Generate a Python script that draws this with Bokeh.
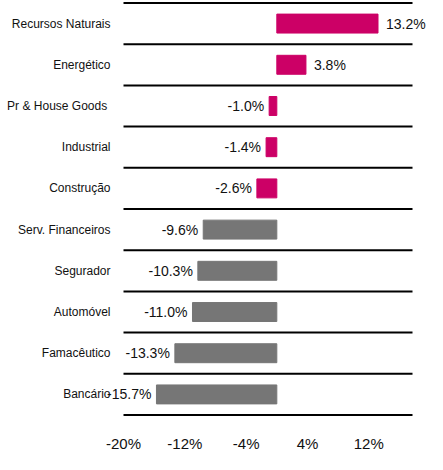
from bokeh.plotting import figure
from bokeh.models import ColumnDataSource, LabelSet, Range1d, FixedTicker, CustomJSTickFormatter
from bokeh.core.properties import value
from bokeh.embed import file_html
from bokeh.resources import INLINE

categories = ["Recursos Naturais", "Energético", "Pr & House  Goods", "Industrial", "Construção",
              "Serv. Financeiros", "Segurador", "Automóvel", "Famacêutico", "Bancário"]
values = [13.2, 3.8, -1.0, -1.4, -2.6, -9.6, -10.3, -11.0, -13.3, -15.7]
colors = ["#CC0066"] * 5 + ["#767676"] * 5
x_ticks = [-20, -12, -4, 4, 12]
x_min, x_max = -20, 17.7

FONT = "Liberation Sans"

# pixel layout of the frame
W, H = 427, 454
left_px, right_px = 123, 412
scale = (right_px - left_px) / (x_max - x_min)
view_lo = x_min - left_px / scale
view_hi = x_max + (W - right_px) / scale
pad = 0.06  # keep the outer boundary lines inside the frame

n = len(categories)
ypos = list(range(n))
labels = [f"{v:.1f}%" for v in values]
src = ColumnDataSource(dict(
    y=ypos, v=values, c=colors, lab=labels,
    pos=[lab if v > 0 else "" for v, lab in zip(values, labels)],
    neg=[lab if v <= 0 else "" for v, lab in zip(values, labels)],
    cat=categories, xc=[x_min] * n,
))

p = figure(width=W, height=H, output_backend="svg", toolbar_location=None,
           x_range=Range1d(view_lo, view_hi),
           y_range=Range1d(n - 0.5 + pad, -0.5 - pad),
           min_border_left=0, min_border_right=0, min_border_top=0, min_border_bottom=30)
p.outline_line_color = None
p.xgrid.visible = False
p.ygrid.visible = False
p.yaxis.visible = False

# category boundary lines
bounds = [i - 0.5 for i in range(n + 1)]
p.segment(x0=[x_min] * len(bounds), x1=[x_max] * len(bounds), y0=bounds, y1=bounds,
          line_color="black", line_width=2)

p.hbar(y="y", left=0, right="v", height=0.46, color="c", source=src)

# category labels
p.text(x="xc", y="y", text="cat", source=src, x_offset=-13, text_align="right",
       text_baseline="middle", text_font=value(FONT), text_font_size="12px",
       text_color="#111111")

p.add_layout(LabelSet(x="v", y="y", text="pos", source=src, x_offset=8,
                      text_align="left", text_baseline="middle", text_font=value(FONT),
                      text_font_size="14px", text_color="#111111"))
p.add_layout(LabelSet(x="v", y="y", text="neg", source=src, x_offset=-5,
                      text_align="right", text_baseline="middle", text_font=value(FONT),
                      text_font_size="14px", text_color="#111111"))

p.xaxis.ticker = FixedTicker(ticks=x_ticks)
p.xaxis.formatter = CustomJSTickFormatter(code="return tick + '%';")
p.xaxis.axis_line_color = None
p.xaxis.major_tick_line_color = None
p.xaxis.minor_tick_line_color = None
p.xaxis.major_label_standoff = 11
p.xaxis.major_label_text_font = FONT
p.xaxis.major_label_text_font_size = "15px"
p.xaxis.major_label_text_color = "#111111"

open("out.html", "w").write(file_html(p, INLINE))
